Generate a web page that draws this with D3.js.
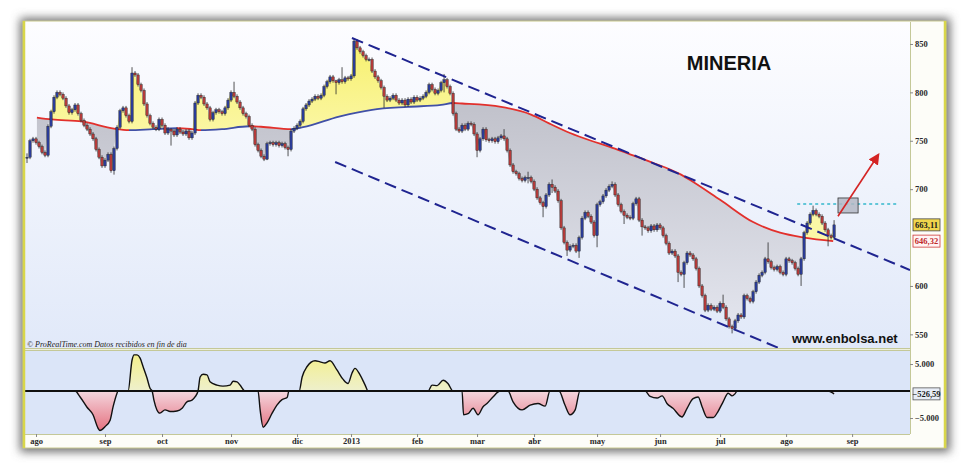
<!DOCTYPE html>
<html>
<head>
<meta charset="utf-8">
<script src="https://d3js.org/d3.v7.min.js"></script>
<style>
  body { margin: 0; background: #fff; }
  svg { display: block; }
</style>
</head>
<body>
<script>
// daily closes, one per session (ago 2012 -> ago 2013)
const closes = [
  733, 750, 752, 748, 744, 738, 735, 765, 780, 795,
  800, 798, 794, 786, 779, 782, 787, 778, 771, 766,
  762, 757, 752, 741, 733, 724, 730, 736, 719, 742,
  764, 781, 784, 776, 770, 820, 818, 808, 802, 788,
  776, 768, 764, 762, 772, 766, 758, 762, 760, 756,
  762, 759, 757, 760, 753, 758, 789, 797, 795, 788,
  784, 772, 779, 782, 780, 778, 784, 792, 800, 796,
  790, 784, 778, 775, 766, 762, 746, 740, 734, 731,
  747, 748, 746, 748, 745, 747, 743, 741, 760, 763,
  766, 770, 783, 787, 791, 793, 796, 794, 797, 806,
  811, 816, 812, 810, 813, 811, 815, 814, 817, 853,
  846, 842, 838, 834, 834, 822, 816, 812, 805, 796,
  792, 794, 797, 792, 789, 792, 787, 793, 790, 795,
  792, 794, 796, 800, 808, 803, 799, 802, 810, 813,
  806, 799, 778, 762, 760, 766, 762, 768, 767, 757,
  740, 752, 762, 751, 750, 752, 749, 753, 755, 752,
  740, 725, 718, 716, 711, 709, 712, 712, 708, 700,
  691, 686, 682, 694, 705, 702, 698, 688, 660, 645,
  637, 641, 642, 636, 650, 670, 676, 672, 666, 652,
  684, 687, 693, 699, 703, 705, 694, 684, 677, 673,
  671, 670, 685, 690, 668, 661, 660, 657, 662, 658,
  663, 660, 652, 644, 634, 636, 631, 614, 612, 624,
  634, 632, 628, 618, 600, 590, 575, 580, 576, 578,
  574, 582, 578, 566, 558, 556, 564, 570, 568, 590,
  587, 584, 594, 604, 611, 614, 628, 625, 619, 617,
  620, 614, 612, 628, 626, 624, 618, 612, 628, 655,
  665, 674, 678, 674, 672, 665, 658, 652, 650, 663.11
];
const firstOpen = 733;

// wicks that stick out further than usual: [session, high, low]
const bigWicks = [
  [0, 737, 727], [29, 744, 715], [35, 826, 768], [48, 763, 745], [69, 811, 794],
  [80, 749, 730], [87, 745, 734], [103, 813, 798], [105, 826, 809], [119, 807, 784],
  [139, 819, 800], [150, 759, 733], [159, 762, 750], [167, 718, 706], [172, 688, 671],
  [175, 710, 696], [180, 647, 631], [184, 652, 629], [190, 686, 640], [195, 708, 701],
  [199, 679, 664], [205, 670, 652], [217, 633, 604], [219, 626, 598], [232, 591, 576],
  [235, 560, 551], [247, 645, 623], [258, 630, 600], [262, 683, 672], [267, 660, 641],
  [269, 668, 648]
];

// moving average: [session, value]
const maPoints = [
  [3.3, 774], [8.3, 772], [18.3, 770], [29, 762.5], [34, 761], [42, 762], [50, 763],
  [55, 762], [58, 761], [65, 762], [74, 765], [78, 764.5], [88, 762], [92, 764],
  [104, 775], [115, 782], [127, 785], [138, 787], [142, 789], [145, 788.5], [158, 785],
  [168, 777], [174, 768], [181, 758], [188, 750], [194, 744], [201, 736], [208, 728],
  [218, 715], [221, 709.5], [231, 689], [242, 666], [251, 655], [259, 650], [268.7, 646.32]
];

// lower panel oscillator: [session, value in thousands]
const oscPoints = [
  [0, 0], [16, 0], [17.7, -1.1], [20, -3.0], [22, -4.4], [23.7, -6.9], [24.3, -7.3],
  [26, -6.6], [27.7, -5.4], [28.7, -2.9], [30, -0.4], [30.3, 0], [33.7, 0], [35, 5.7],
  [35.7, 6.7], [36.7, 6.7], [37.7, 6.1], [38.7, 4.5], [40, 2.4], [41, 0.5], [41.7, 0],
  [42.3, -1.7], [43.3, -3.5], [44.3, -4.1], [46, -3.5], [47.7, -3.8], [50, -3.7],
  [51.7, -3.2], [53.3, -2.0], [55, -1.7], [56, -1.1], [57, 0], [57.7, 2.6], [58.7, 3.1],
  [60, 3.0], [61, 1.7], [63.3, 1.1], [65.3, 0.9], [67.7, 1.1], [68.7, 1.8], [70, 1.7],
  [71, 1.1], [72.7, 0], [77, 0], [77.7, -3.5], [78.7, -6.7], [80, -5.9], [81.7, -4.1],
  [83.3, -2.6], [85, -1.6], [86.7, -1.2], [87.3, 0], [90.7, 0], [91.7, 2.6], [93.3, 4.5],
  [96, 5.6], [97.7, 5.4], [99.3, 5.2], [101, 5.6], [103.3, 3.9], [105.3, 2.2], [107, 1.4],
  [108.3, 3.3], [109.3, 4.2], [111, 3.0], [112.7, 1.1], [113.7, 0], [133.7, 0], [135, 1.1],
  [136.7, 1.0], [138.7, 2.0], [140.3, 1.4], [142, 0], [145, 0], [145.5, -4.4], [147, -4.2],
  [148.7, -3.2], [150.3, -4.4], [152, -2.9], [153.3, -2.3], [155.3, -1.1], [157.7, 0],
  [160.3, 0], [162, -2.0], [165, -3.5], [167.7, -2.6], [170.3, -2.3], [172.7, -2.8],
  [174.3, 0], [177.3, 0], [179.3, -2.6], [181, -4.4], [182.7, -3.5], [184.3, 0], [206, 0],
  [207.7, -1.0], [210, -1.3], [211.7, -0.9], [213.3, -2.3], [215.3, -3.2], [218.3, -4.8],
  [220, -3.2], [222, -1.4], [223.7, -1.1], [225, -2.9], [226.7, -4.9], [228.7, -4.9],
  [230.3, -3.8], [232, -2.0], [233.7, -0.4], [235, -0.9], [236, -0.5], [236.7, 0],
  [267, 0], [269, -0.53]
];

const monthTicks = [3, 26, 45, 68, 90, 108, 130, 150, 169, 190, 211, 231, 253, 275];
const monthLabels = ["ago", "sep", "oct", "nov", "dic", "2013", "feb", "mar", "abr", "may", "jun", "jul", "ago", "sep"];
// 650 sits behind the last-value tags, so it is left out
const priceTicks = [550, 600, 700, 750, 800, 850];
const oscTicks = [5, -5];

// drawn annotations, in session / price units
const upperChannel = [[108.3, 856.2], [294.3, 616.5]];
const lowerChannel = [[102.7, 728.1], [262, 521]];
const breakout = [[256.7, 684.7], [290, 684.7]];
const targetBox = [[270.3, 690.9], [277, 675.4]];
const arrowLine = [[270.3, 672], [283.7, 735.3]];

const lastClose = 663.11;
const lastMA = 646.32;
const lastOsc = -526.59;

const es = d3.formatLocale({decimal: ",", thousands: ".", grouping: [3], currency: ["", " €"]});

chart();

function chart() {
    const W = 969, H = 471;
    const plot = {left: 25, right: 910, top: 22, bottom: 348};
    const pan = {top: 350, bottom: 434};

    const x = d3.scaleLinear().domain([-0.67, 294.3]).range([plot.left, plot.right]);
    const y = d3.scaleLinear().domain([535.9, 872.7]).range([plot.bottom, plot.top]);
    const yo = d3.scaleLinear().domain([-7.96, 7.6]).range([pan.bottom, pan.top]);

    const svg = d3.select('body').append('svg')
        .attr('width', W)
        .attr('height', H);
    const defs = svg.append('defs');

    function grad(id, y1, y2, stops) {
        const g = defs.append('linearGradient').attr('id', id)
            .attr('gradientUnits', 'userSpaceOnUse')
            .attr('x1', 0).attr('x2', 0).attr('y1', y1).attr('y2', y2);
        stops.forEach(s => g.append('stop').attr('offset', s[0]).attr('stop-color', s[1]));
    }
    grad('bg', plot.top, plot.bottom, [[0, '#fdfdff'], [1, '#e1e9f9']]);
    grad('yel', 40, 135, [[0, '#f7f06c'], [1, '#fbf7a6']]);
    grad('gry', 110, 335, [[0, '#c2c3cc'], [1, '#e4e6ef']]);
    grad('oscY', pan.top + 4, yo(0), [[0, '#f3ef8c'], [1, '#eef0cc']]);
    grad('oscR', yo(0), pan.bottom - 4, [[0, '#f4d6de'], [1, '#e57381']]);

    // frame with soft shadow
    defs.append('filter').attr('id', 'shadow')
        .attr('x', -0.05).attr('y', -0.1).attr('width', 1.1).attr('height', 1.2)
        .append('feGaussianBlur').attr('stdDeviation', 5);
    svg.append('rect')
        .attr('x', 20).attr('y', 18).attr('width', 930).attr('height', 434)
        .attr('fill', '#707070')
        .attr('filter', 'url(#shadow)');
    svg.append('rect')
        .attr('x', 23).attr('y', 21).attr('width', 923).attr('height', 427)
        .attr('fill', '#fdfdf8')
        .attr('stroke', '#c8c890');

    svg.append('rect')
        .attr('x', plot.left).attr('y', plot.top)
        .attr('width', plot.right - plot.left).attr('height', plot.bottom - plot.top)
        .attr('fill', 'url(#bg)');
    svg.append('rect')
        .attr('x', plot.left).attr('y', pan.top)
        .attr('width', plot.right - plot.left).attr('height', pan.bottom - pan.top)
        .attr('fill', '#dbe5f8');
    svg.append('rect')
        .attr('x', plot.left).attr('y', plot.bottom)
        .attr('width', plot.right - plot.left).attr('height', pan.top - plot.bottom)
        .attr('fill', '#eef0dc');

    [plot.bottom, pan.top, pan.bottom].forEach(v => {
        svg.append('line')
            .attr('x1', plot.left).attr('x2', plot.right)
            .attr('y1', v + 0.5).attr('y2', v + 0.5)
            .attr('stroke', '#c4c898');
    });
    svg.append('line')
        .attr('x1', plot.right + 0.5).attr('x2', plot.right + 0.5)
        .attr('y1', plot.top).attr('y2', pan.bottom)
        .attr('stroke', '#c4c898');

    // clip paths
    defs.append('clipPath').attr('id', 'plotClip')
        .append('rect')
        .attr('x', plot.left).attr('y', plot.top)
        .attr('width', plot.right - plot.left).attr('height', plot.bottom - plot.top);

    const maAbove = d3.area().x(d => x(d[0])).y0(plot.top).y1(d => y(d[1])).curve(d3.curveMonotoneX);
    const maBelow = d3.area().x(d => x(d[0])).y0(d => y(d[1])).y1(plot.bottom).curve(d3.curveMonotoneX);
    defs.append('clipPath').attr('id', 'aboveMA').append('path').attr('d', maAbove(maPoints));
    defs.append('clipPath').attr('id', 'belowMA').append('path').attr('d', maBelow(maPoints));

    const candles = closes.map((c, i) => {
        const o = i === 0 ? firstOpen : closes[i - 1];
        const w = bigWicks.find(b => b[0] === i);
        return {
            i: i, o: o, c: c,
            h: w ? w[1] : Math.max(o, c) + 2,
            l: w ? w[2] : Math.min(o, c) - 2
        };
    });

    // yellow where price is above the average, grey where below
    svg.append('path')
        .attr('d', d3.area().x(d => x(d.i)).y0(plot.bottom).y1(d => y(d.c))(candles))
        .attr('fill', 'url(#yel)')
        .attr('clip-path', 'url(#aboveMA)');
    svg.append('path')
        .attr('d', d3.area().x(d => x(d.i)).y0(plot.top).y1(d => y(d.c))(candles))
        .attr('fill', 'url(#gry)')
        .attr('clip-path', 'url(#belowMA)');

    // moving average, blue while rising, red while falling
    const maGrad = defs.append('linearGradient').attr('id', 'maCol')
        .attr('gradientUnits', 'userSpaceOnUse')
        .attr('x1', x(maPoints[0][0])).attr('x2', x(maPoints[maPoints.length - 1][0]))
        .attr('y1', 0).attr('y2', 0);
    const span = maPoints[maPoints.length - 1][0] - maPoints[0][0];
    for (let k = 0; k < maPoints.length - 1; k++) {
        const col = maPoints[k + 1][1] > maPoints[k][1] ? '#4150a6' : '#e2302c';
        maGrad.append('stop').attr('offset', (maPoints[k][0] - maPoints[0][0]) / span).attr('stop-color', col);
        maGrad.append('stop').attr('offset', (maPoints[k + 1][0] - maPoints[0][0]) / span).attr('stop-color', col);
    }
    svg.append('path')
        .attr('d', d3.line().x(d => x(d[0])).y(d => y(d[1])).curve(d3.curveMonotoneX)(maPoints))
        .attr('fill', 'none')
        .attr('stroke', 'url(#maCol)')
        .attr('stroke-width', 1.8);

    // candles
    const cg = svg.append('g');
    cg.selectAll('line')
        .data(candles)
        .enter()
        .append('line')
        .attr('x1', d => x(d.i)).attr('x2', d => x(d.i))
        .attr('y1', d => y(d.h)).attr('y2', d => y(d.l))
        .attr('stroke', '#2a2a2a')
        .attr('stroke-width', 0.8);
    cg.selectAll('rect')
        .data(candles)
        .enter()
        .append('rect')
        .attr('x', d => x(d.i) - 1.2)
        .attr('width', 2.4)
        .attr('y', d => y(Math.max(d.o, d.c)))
        .attr('height', d => Math.max(1, Math.abs(y(d.o) - y(d.c))))
        .attr('fill', d => d.c >= d.o ? '#2b3c98' : '#b43b3a')
        .attr('stroke', '#1e1e1e')
        .attr('stroke-width', 0.4);

    // channel, breakout level, target
    const ln = d3.line().x(d => x(d[0])).y(d => y(d[1]));
    const ann = svg.append('g').attr('clip-path', 'url(#plotClip)');
    [upperChannel, lowerChannel].forEach(c => {
        ann.append('path')
            .attr('d', ln(c))
            .attr('fill', 'none')
            .attr('stroke', '#1f2490')
            .attr('stroke-width', 2)
            .attr('stroke-dasharray', '12,6');
    });
    ann.append('path')
        .attr('d', ln(breakout))
        .attr('stroke', '#62c6d8')
        .attr('stroke-width', 2)
        .attr('stroke-dasharray', '3,3');
    ann.append('rect')
        .attr('x', x(targetBox[0][0])).attr('y', y(targetBox[0][1]))
        .attr('width', x(targetBox[1][0]) - x(targetBox[0][0]))
        .attr('height', y(targetBox[1][1]) - y(targetBox[0][1]))
        .attr('fill', '#b3b7c3')
        .attr('fill-opacity', 0.85)
        .attr('stroke', '#333')
        .attr('stroke-width', 0.8);
    defs.append('marker').attr('id', 'head')
        .attr('viewBox', '0 0 10 10').attr('refX', 8).attr('refY', 5)
        .attr('markerWidth', 7).attr('markerHeight', 7)
        .attr('orient', 'auto')
        .append('path').attr('d', 'M0,0 L10,5 L0,10 Z').attr('fill', '#d42424');
    ann.append('path')
        .attr('d', ln(arrowLine))
        .attr('stroke', '#d42424')
        .attr('stroke-width', 1.6)
        .attr('marker-end', 'url(#head)');

    // texts
    svg.append('text')
        .attr('x', 729).attr('y', 70)
        .attr('text-anchor', 'middle')
        .style('font', 'bold 20px "Liberation Sans", Arial, sans-serif')
        .attr('fill', '#111')
        .text('MINERIA');
    svg.append('text')
        .attr('x', 792).attr('y', 343)
        .style('font', 'bold 13px "Liberation Sans", Arial, sans-serif')
        .attr('fill', '#111')
        .text('www.enbolsa.net');
    svg.append('text')
        .attr('x', 27).attr('y', 346.5)
        .style('font', 'italic 8px "Liberation Serif", serif')
        .attr('fill', '#222')
        .text('© ProRealTime.com  Datos recibidos en fin de dia');

    // oscillator
    const z = yo(0);
    defs.append('clipPath').attr('id', 'oUp').append('rect')
        .attr('x', plot.left).attr('y', pan.top).attr('width', plot.right - plot.left).attr('height', z - pan.top);
    defs.append('clipPath').attr('id', 'oDn').append('rect')
        .attr('x', plot.left).attr('y', z).attr('width', plot.right - plot.left).attr('height', pan.bottom - z);
    const oArea = d3.area().x(d => x(d[0])).y0(z).y1(d => yo(d[1])).curve(d3.curveMonotoneX);
    svg.append('path').attr('d', oArea(oscPoints)).attr('fill', 'url(#oscY)').attr('clip-path', 'url(#oUp)');
    svg.append('path').attr('d', oArea(oscPoints)).attr('fill', 'url(#oscR)').attr('clip-path', 'url(#oDn)');
    svg.append('line')
        .attr('x1', plot.left).attr('x2', plot.right)
        .attr('y1', z).attr('y2', z)
        .attr('stroke', '#111')
        .attr('stroke-width', 2);
    svg.append('path')
        .attr('d', d3.line().x(d => x(d[0])).y(d => yo(d[1])).curve(d3.curveMonotoneX)(oscPoints))
        .attr('fill', 'none')
        .attr('stroke', '#111')
        .attr('stroke-width', 1.4);

    // axes
    const font = 'bold 8.5px "Liberation Serif", "Times New Roman", serif';
    const yAxis = d3.axisRight(y).tickValues(priceTicks).tickSize(3).tickPadding(2).tickFormat(d3.format('d'));
    const ga = svg.append('g').attr('transform', `translate(${plot.right},0)`).call(yAxis);
    const oAxis = d3.axisRight(yo).tickValues(oscTicks).tickSize(3).tickPadding(2).tickFormat(d => es.format(',d')(d * 1000));
    const gb = svg.append('g').attr('transform', `translate(${plot.right},0)`).call(oAxis);
    const xAxis = d3.axisBottom(x).tickValues(monthTicks).tickSize(3).tickPadding(1).tickFormat((d, i) => monthLabels[i]);
    const gc = svg.append('g').attr('transform', `translate(0,${pan.bottom})`).call(xAxis);
    [ga, gb, gc].forEach(g => {
        g.select('.domain').remove();
        g.selectAll('.tick line').attr('stroke', '#888');
        g.selectAll('text').style('font', font).attr('fill', '#2a2a2a');
    });

    // last value tags
    function tag(v, yy, fill, stroke, color) {
        const t = svg.append('g').attr('transform', `translate(913,${yy})`);
        t.append('rect')
            .attr('x', 0).attr('y', -6).attr('width', 27).attr('height', 12)
            .attr('fill', fill).attr('stroke', stroke).attr('stroke-width', 0.8);
        t.append('text')
            .attr('x', 13.5).attr('y', 3.2)
            .attr('text-anchor', 'middle')
            .style('font', font)
            .attr('fill', color)
            .text(v);
    }
    tag(es.format(',.2f')(lastClose), y(lastClose), '#f0d64c', '#444', '#1a1a1a');
    tag(es.format(',.2f')(lastMA), y(lastMA), '#fff4f4', '#d03a3a', '#c02828');
    tag(es.format(',.2f')(lastOsc), yo(lastOsc / 1000), '#e8edf7', '#555', '#1a1a1a');

    // yellow side edges of the frame
    [24, 945].forEach(v => {
        svg.append('line')
            .attr('x1', v).attr('x2', v).attr('y1', 21).attr('y2', 448)
            .attr('stroke', '#d8d64a')
            .attr('stroke-width', 2.5);
    });
}
</script>
</body>
</html>
